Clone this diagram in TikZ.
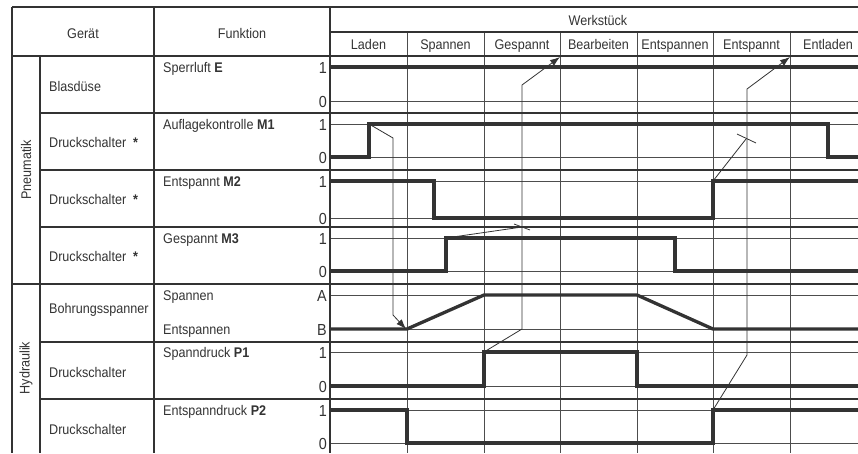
\documentclass[tikz,border=0pt]{standalone}
\usepackage{fontspec}
\setmainfont{Liberation Sans}[FakeStretch=0.9]
\usetikzlibrary{arrows.meta}
\definecolor{ink}{HTML}{333333}
\definecolor{gridc}{HTML}{4d4d4d}
\begin{document}
\begin{tikzpicture}[x=1pt,y=-1pt,
  gridline/.style={draw=gridc,line width=1pt},
  tabline/.style={draw=ink,line width=1.1pt},
  sig/.style={draw=ink,line width=3.3pt,line join=miter},
  conn/.style={draw=ink,line width=0.8pt},
  arr/.style={conn,-{Latex[length=10pt,width=7pt]}},
  txt/.style={text=ink,font=\fontsize{14}{16}\selectfont,inner sep=0pt},
  lvl/.style={text=ink,font=\fontsize{16}{18}\selectfont,inner sep=0pt,anchor=base east}]
\useasboundingbox (0,0) rectangle (858,453);
\clip (0,0) rectangle (858,453);
% ---- chart grid
\foreach \y in {67,101,124,157,181,218,238,271,295,329,352,386,410,443}
  \draw[gridline] (330,\y) -- (858,\y);
\foreach \x in {407,484,560,637,713,790}
  \draw[gridline] (\x,32) -- (\x,453);
\draw[tabline] (330,32) -- (858,32);
% ---- table frame
\draw[tabline] (12,7) -- (858,7);
\draw[tabline] (12,56) -- (858,56);
\draw[tabline] (12,284) -- (858,284);
\foreach \y in {113,170,227,342,399}
  \draw[tabline] (40,\y) -- (858,\y);
\draw[tabline] (12,7) -- (12,453);
\draw[tabline] (40,56) -- (40,453);
\draw[tabline] (154,7) -- (154,453);
\draw[tabline] (330,7) -- (330,453);
% ---- headers
\node[txt,anchor=base] (hger) at (83,38) {Gerät};
\node[txt,anchor=base] (hfun) at (242,38) {Funktion};
\node[txt,anchor=base] (hwst) at (598,25) {Werkstück};
\node[txt,anchor=base] (cl1) at (368.5,49) {Laden};
\node[txt,anchor=base] (cl2) at (445.5,49) {Spannen};
\node[txt,anchor=base] (cl3) at (522,49) {Gespannt};
\node[txt,anchor=base] (cl4) at (598.5,49) {Bearbeiten};
\node[txt,anchor=base] (cl5) at (675,49) {Entspannen};
\node[txt,anchor=base] (cl6) at (751.5,49) {Entspannt};
\node[txt,anchor=base] (cl7) at (828,49) {Entladen};
% ---- groups
\node[txt,rotate=90] (gpn) at (26,170) {Pneumatik};
\node[txt,rotate=90] (ghy) at (26,368) {Hydraulik};
% ---- devices
\node[txt,anchor=base west] (d1) at (49,91) {Blasdüse};
\node[txt,anchor=base west] (d2) at (49,147) {Druckschalter\hspace{7pt}\textbf{*}};
\node[txt,anchor=base west] (d3) at (49,204) {Druckschalter\hspace{7pt}\textbf{*}};
\node[txt,anchor=base west] (d4) at (49,261) {Druckschalter\hspace{7pt}\textbf{*}};
\node[txt,anchor=base west] (d5) at (49,313) {Bohrungsspanner};
\node[txt,anchor=base west] (d6) at (49,377) {Druckschalter};
\node[txt,anchor=base west] (d7) at (49,434) {Druckschalter};
% ---- functions
\node[txt,anchor=base west] (f1) at (163,72) {Sperrluft \textbf{E}};
\node[txt,anchor=base west] (f2) at (163,129) {Auflagekontrolle \textbf{M1}};
\node[txt,anchor=base west] (f3) at (163,186) {Entspannt \textbf{M2}};
\node[txt,anchor=base west] (f4) at (163,243) {Gespannt \textbf{M3}};
\node[txt,anchor=base west] (f5a) at (163,300) {Spannen};
\node[txt,anchor=base west] (f5b) at (163,334) {Entspannen};
\node[txt,anchor=base west] (f6) at (163,357) {Spanndruck \textbf{P1}};
\node[txt,anchor=base west] (f7) at (163,415) {Entspanndruck \textbf{P2}};
% ---- level labels
\foreach \y/\t [count=\i] in {67/1,101/0,124/1,157/0,181/1,218/0,238/1,271/0,295/A,329/B,352/1,386/0,410/1,443/0}
  \node[lvl] (lv\i) at (327,\y+6) {\t};
% ---- signals
\draw[sig] (330,67) -- (858,67);
\draw[sig] (330,157) -- (369,157) -- (369,124) -- (828,124) -- (828,157) -- (858,157);
\draw[sig] (330,181) -- (434,181) -- (434,218) -- (713,218) -- (713,181) -- (858,181);
\draw[sig] (330,271) -- (446,271) -- (446,238) -- (675,238) -- (675,271) -- (858,271);
\draw[sig] (330,329) -- (407,329) -- (484,295) -- (637,295) -- (713,329) -- (858,329);
\draw[sig] (330,386) -- (484,386) -- (484,352) -- (637,352) -- (637,386) -- (858,386);
\draw[sig] (330,410) -- (407,410) -- (407,443) -- (713,443) -- (713,410) -- (858,410);
% ---- connector points
\coordinate (m1up) at (369,124);
\coordinate (m1a) at (393,138);
\coordinate (m1b) at (393,315);
\coordinate (bo1) at (406,329);
\coordinate (p1up) at (484,352);
\coordinate (p1a) at (522,329);
\coordinate (p1b) at (522,85);
\coordinate (e1) at (560,57);
\coordinate (p2up) at (713,410);
\coordinate (p2a) at (747,355);
\coordinate (p2b) at (747,89);
\coordinate (e2) at (790,57);
\coordinate (m2up) at (713,181);
\coordinate (m2e) at (746,139);
\coordinate (m2l) at (737,134);
\coordinate (m2r) at (756,143);
\coordinate (m3up) at (446,238);
\coordinate (m3e) at (522,227);
\coordinate (m3l) at (514,224);
\coordinate (m3r) at (530,230);
% ---- connectors
\draw[arr] (m1up) -- (m1a) -- (m1b) -- (bo1);
\draw[arr] (p1up) -- (p1a) -- (p1b) -- (e1);
\draw[arr] (p2up) -- (p2a) -- (p2b) -- (e2);
\draw[conn] (m2up) -- (m2e);
\draw[conn] (m2l) -- (m2r);
\draw[conn] (m3up) -- (m3e);
\draw[conn] (m3l) -- (m3r);
\end{tikzpicture}
\end{document}
